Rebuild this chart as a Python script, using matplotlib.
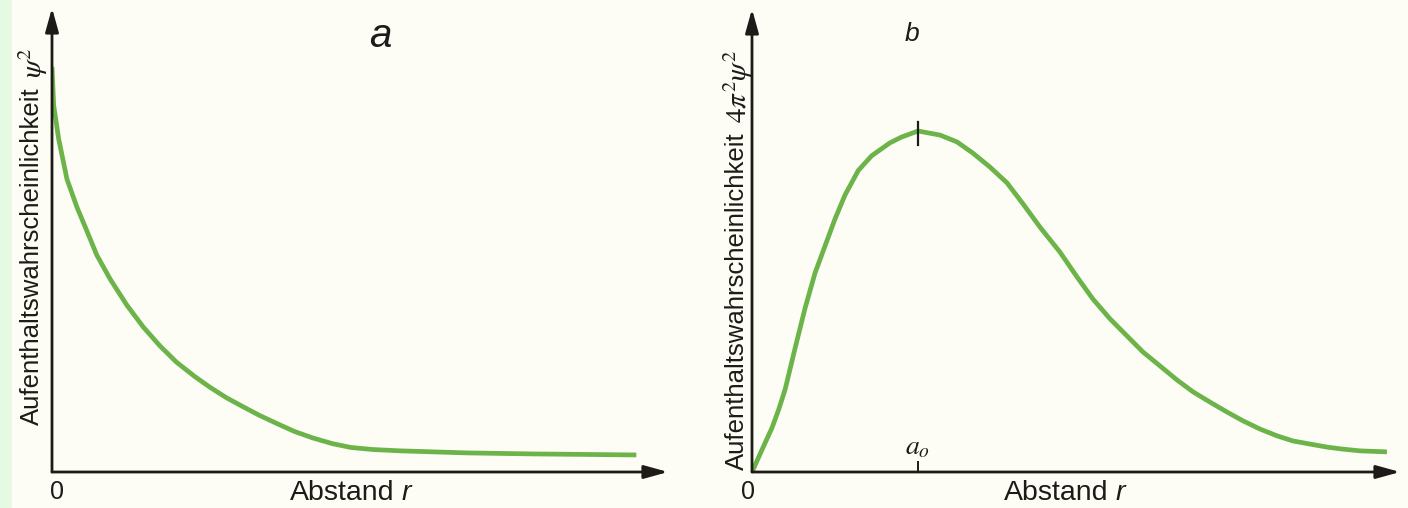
import matplotlib
matplotlib.use("Agg")
import matplotlib.pyplot as plt
from matplotlib.patches import Rectangle

plt.rcParams['font.family'] = ['Liberation Sans', 'DejaVu Sans']
plt.rcParams['mathtext.fontset'] = 'stix'

# ---- data (r in units of a0, heights relative to the maximum of b)
r_a = [0.0, 0.01, 0.04, 0.09, 0.15, 0.21, 0.27, 0.35, 0.45, 0.55, 0.65, 0.75, 0.86, 0.95,
       1.05, 1.16, 1.25, 1.36, 1.46, 1.57, 1.69, 1.80, 1.93, 2.10, 2.50, 2.90, 3.52]
psi2_a = [1.188, 1.076, 0.977, 0.859, 0.777, 0.707, 0.636, 0.566, 0.490, 0.425, 0.370, 0.322, 0.280, 0.249,
          0.218, 0.189, 0.166, 0.141, 0.119, 0.100, 0.083, 0.072, 0.066, 0.062, 0.056, 0.053, 0.050]

r_b = [0.0, 0.06, 0.12, 0.16, 0.20, 0.26, 0.32, 0.38, 0.44, 0.50, 0.56, 0.64, 0.72, 0.83, 0.90, 1.0,
       1.133, 1.235, 1.331, 1.434, 1.536, 1.633, 1.735, 1.855, 1.958, 2.054, 2.157, 2.259, 2.355,
       2.458, 2.560, 2.657, 2.759, 2.861, 2.958, 3.060, 3.163, 3.259, 3.361, 3.464, 3.560, 3.663, 3.825]
prob_b = [0.0, 0.065, 0.129, 0.182, 0.243, 0.364, 0.481, 0.584, 0.663, 0.742, 0.812, 0.884, 0.927, 0.965,
          0.982, 1.0,
          0.988, 0.968, 0.935, 0.894, 0.848, 0.786, 0.718, 0.645, 0.572, 0.507, 0.449, 0.399, 0.352,
          0.311, 0.270, 0.235, 0.205, 0.176, 0.150, 0.126, 0.106, 0.091, 0.082, 0.073, 0.067, 0.062, 0.059]

a0 = 1.0
panel_titles = ['a', 'b']
ylabel_text = 'Aufenthaltswahrscheinlichkeit'
ylabel_sym_a = r'$\psi^2$'
ylabel_sym_b = r'$4\pi^2\psi^2$'

W, H = 1408, 508
BG = '#fdfdf6'
GREEN = '#6cb44a'
INK = '#1e1a18'

fig = plt.figure(figsize=(W / 100, H / 100), dpi=100, facecolor=BG)
# light green strip on the left edge
fig.patches.append(Rectangle((0, 0), 12 / W, 1, transform=fig.transFigure,
                             facecolor='#e6f9e2', edgecolor='none', zorder=0))


def fx(px):
    return px / W


def fy(py):
    return (H - py) / H


def make_axes(x0, x1, ytop):
    ax = fig.add_axes([fx(x0), fy(472), fx(x1) - fx(x0), fy(ytop) - fy(472)])
    ax.set_facecolor('none')
    for s in ax.spines.values():
        s.set_visible(False)
    ax.set_xticks([])
    ax.set_yticks([])
    ax.set_xlim(0, (x1 - x0) / 166)
    ax.set_ylim(0, (472 - ytop) / 341)
    arrow = dict(arrowstyle='-|>,head_length=0.9,head_width=0.25', color=INK, lw=2.0,
                 mutation_scale=16, shrinkA=0, shrinkB=0)
    ax.annotate('', xy=(1, 0), xytext=(0, 0), xycoords='axes fraction', arrowprops=arrow, zorder=5)
    ax.annotate('', xy=(0, 1), xytext=(0, 0), xycoords='axes fraction', arrowprops=arrow, zorder=5)
    return ax


ax_a = make_axes(52, 668, 8)
ax_a.plot(r_a, psi2_a, color=GREEN, lw=3.4, solid_capstyle='butt', solid_joinstyle='round', zorder=3)

ax_b = make_axes(752, 1400, 9)
ax_b.plot(r_b, prob_b, color=GREEN, lw=3.4, solid_capstyle='butt', solid_joinstyle='round', zorder=3)
# marker at the maximum and a0 tick
ax_b.plot([a0, a0], [0.959, 1.026], color=INK, lw=1.6, zorder=4)
ax_b.plot([a0, a0], [0.0, 0.03], color=INK, lw=1.4, zorder=4)
ax_b.text(a0, 0.073, r'$a_o$', ha='center', va='center', fontsize=20, color=INK)

# panel letters
fig.text(fx(380), fy(36), panel_titles[0], ha='center', va='center', fontsize=29,
         style='italic', color=INK)
fig.text(fx(912), fy(34), panel_titles[1], ha='center', va='center', fontsize=19,
         style='italic', color=INK)

# x labels
for lx, zx in [(290, 57), (1004, 748)]:
    fig.text(fx(lx), fy(493), 'Abstand', ha='left', va='center', fontsize=20.5, color=INK)
    fig.text(fx(lx + 112), fy(493), 'r', ha='left', va='center', fontsize=20.5, style='italic', color=INK)
    fig.text(fx(zx), fy(492), '0', ha='center', va='center', fontsize=18, color=INK)

# y labels (word + symbol placed just above it)
fig.canvas.draw()
renderer = fig.canvas.get_renderer()
for cx, ybot, sym in [(32, 425, ylabel_sym_a), (737, 470, ylabel_sym_b)]:
    t = fig.text(fx(cx), fy(ybot), ylabel_text, rotation=90, ha='center', va='bottom',
                 fontsize=18.5, color=INK)
    bb = t.get_window_extent(renderer)
    top_px = H - bb.y1
    fig.text(fx(cx + 1), fy(top_px - 9), sym, rotation=90, ha='center', va='bottom',
             fontsize=21, color=INK)

fig.savefig('out.png', dpi=100, facecolor=BG)
